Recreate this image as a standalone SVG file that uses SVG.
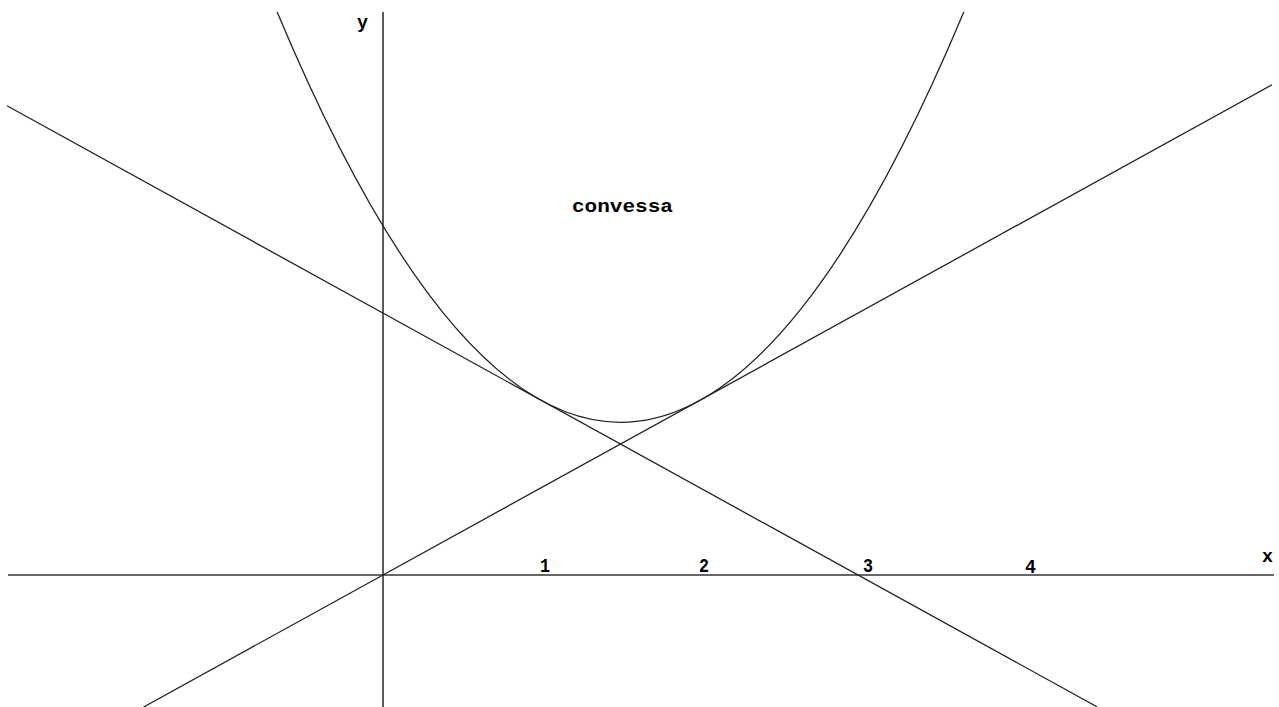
<svg xmlns="http://www.w3.org/2000/svg" width="1279" height="707" viewBox="0 0 1279 707">
<style>
.ax{stroke:#333;stroke-width:1.6;fill:none}
.cv{stroke:#222;stroke-width:1.3;fill:none}
.lb{font-family:"Liberation Mono","DejaVu Sans Mono",monospace;font-weight:bold;fill:#000}
</style>
<rect width="1279" height="707" fill="#fff"/>
<g id="axes">
<line class="ax" x1="8" y1="575" x2="1274" y2="575"/>
<line class="ax" x1="383" y1="12" x2="383" y2="707"/>
</g>
<g id="curves">
<path id="parabola" class="cv" d="M277.15,12 Q620.5,832.6 963.8,12"/>
<line id="tangent-rising" class="cv" x1="143.6" y1="707" x2="1272" y2="84.8"/>
<line id="tangent-falling" class="cv" x1="7" y1="105.8" x2="1097.4" y2="707"/>
</g>
<g id="labels">
<text class="lb" x="357" y="28" font-size="19" textLength="11" lengthAdjust="spacingAndGlyphs">y</text>
<text class="lb" x="1262" y="562" font-size="19" textLength="11" lengthAdjust="spacingAndGlyphs">x</text>
<text class="lb" x="540" y="572" font-size="20" textLength="10" lengthAdjust="spacingAndGlyphs">1</text>
<text class="lb" x="699" y="572" font-size="20" textLength="10" lengthAdjust="spacingAndGlyphs">2</text>
<text class="lb" x="863" y="572" font-size="20" textLength="10" lengthAdjust="spacingAndGlyphs">3</text>
<text class="lb" x="1025" y="573" font-size="20" textLength="11" lengthAdjust="spacingAndGlyphs">4</text>
<text class="lb" x="572" y="212" font-size="19" textLength="101" lengthAdjust="spacingAndGlyphs">convessa</text>
</g>
</svg>
